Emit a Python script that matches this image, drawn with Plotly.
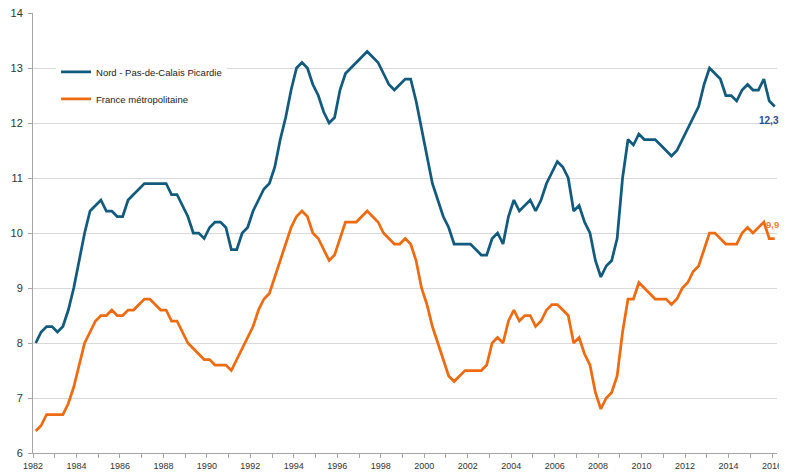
import plotly.graph_objects as go

years = list(range(1982, 2017))
quarters = [y + (q - 0.5) / 4 for y in range(1982, 2016) for q in range(1, 5)] + [2016 + 0.5 / 4]

nord_pdc_picardie = [
    8.0, 8.2, 8.3, 8.3,      # 1982
    8.2, 8.3, 8.6, 9.0,      # 1983
    9.5, 10.0, 10.4, 10.5,   # 1984
    10.6, 10.4, 10.4, 10.3,  # 1985
    10.3, 10.6, 10.7, 10.8,  # 1986
    10.9, 10.9, 10.9, 10.9,  # 1987
    10.9, 10.7, 10.7, 10.5,  # 1988
    10.3, 10.0, 10.0, 9.9,   # 1989
    10.1, 10.2, 10.2, 10.1,  # 1990
    9.7, 9.7, 10.0, 10.1,    # 1991
    10.4, 10.6, 10.8, 10.9,  # 1992
    11.2, 11.7, 12.1, 12.6,  # 1993
    13.0, 13.1, 13.0, 12.7,  # 1994
    12.5, 12.2, 12.0, 12.1,  # 1995
    12.6, 12.9, 13.0, 13.1,  # 1996
    13.2, 13.3, 13.2, 13.1,  # 1997
    12.9, 12.7, 12.6, 12.7,  # 1998
    12.8, 12.8, 12.4, 11.9,  # 1999
    11.4, 10.9, 10.6, 10.3,  # 2000
    10.1, 9.8, 9.8, 9.8,     # 2001
    9.8, 9.7, 9.6, 9.6,      # 2002
    9.9, 10.0, 9.8, 10.3,    # 2003
    10.6, 10.4, 10.5, 10.6,  # 2004
    10.4, 10.6, 10.9, 11.1,  # 2005
    11.3, 11.2, 11.0, 10.4,  # 2006
    10.5, 10.2, 10.0, 9.5,   # 2007
    9.2, 9.4, 9.5, 9.9,      # 2008
    11.0, 11.7, 11.6, 11.8,  # 2009
    11.7, 11.7, 11.7, 11.6,  # 2010
    11.5, 11.4, 11.5, 11.7,  # 2011
    11.9, 12.1, 12.3, 12.7,  # 2012
    13.0, 12.9, 12.8, 12.5,  # 2013
    12.5, 12.4, 12.6, 12.7,  # 2014
    12.6, 12.6, 12.8, 12.4,  # 2015
    12.3,                    # 2016
]

france_metro = [
    6.4, 6.5, 6.7, 6.7,      # 1982
    6.7, 6.7, 6.9, 7.2,      # 1983
    7.6, 8.0, 8.2, 8.4,      # 1984
    8.5, 8.5, 8.6, 8.5,      # 1985
    8.5, 8.6, 8.6, 8.7,      # 1986
    8.8, 8.8, 8.7, 8.6,      # 1987
    8.6, 8.4, 8.4, 8.2,      # 1988
    8.0, 7.9, 7.8, 7.7,      # 1989
    7.7, 7.6, 7.6, 7.6,      # 1990
    7.5, 7.7, 7.9, 8.1,      # 1991
    8.3, 8.6, 8.8, 8.9,      # 1992
    9.2, 9.5, 9.8, 10.1,     # 1993
    10.3, 10.4, 10.3, 10.0,  # 1994
    9.9, 9.7, 9.5, 9.6,      # 1995
    9.9, 10.2, 10.2, 10.2,   # 1996
    10.3, 10.4, 10.3, 10.2,  # 1997
    10.0, 9.9, 9.8, 9.8,     # 1998
    9.9, 9.8, 9.5, 9.0,      # 1999
    8.7, 8.3, 8.0, 7.7,      # 2000
    7.4, 7.3, 7.4, 7.5,      # 2001
    7.5, 7.5, 7.5, 7.6,      # 2002
    8.0, 8.1, 8.0, 8.4,      # 2003
    8.6, 8.4, 8.5, 8.5,      # 2004
    8.3, 8.4, 8.6, 8.7,      # 2005
    8.7, 8.6, 8.5, 8.0,      # 2006
    8.1, 7.8, 7.6, 7.1,      # 2007
    6.8, 7.0, 7.1, 7.4,      # 2008
    8.2, 8.8, 8.8, 9.1,      # 2009
    9.0, 8.9, 8.8, 8.8,      # 2010
    8.8, 8.7, 8.8, 9.0,      # 2011
    9.1, 9.3, 9.4, 9.7,      # 2012
    10.0, 10.0, 9.9, 9.8,    # 2013
    9.8, 9.8, 10.0, 10.1,    # 2014
    10.0, 10.1, 10.2, 9.9,   # 2015
    9.9,                     # 2016
]

series_names = ["Nord - Pas-de-Calais Picardie", "France métropolitaine"]
line_colors = ["#125B7E", "#EE6B12"]
label_colors = ["#2E4C8A", "#F0822F"]
year_ticks = years[::2]
y_ticks = list(range(6, 15))

FONT = "Liberation Sans, Arial, sans-serif"

fig = go.Figure()
for name, vals, col in zip(series_names, [nord_pdc_picardie, france_metro], line_colors):
    fig.add_trace(go.Scatter(
        x=quarters, y=vals, mode="lines", name=name, legendgroup=name,
        line=dict(color=col, width=2.75), hoverinfo="x+y",
    ))

def fmt(v):
    return f"{v:.1f}".replace(".", ",")

fig.add_annotation(x=quarters[-1], y=nord_pdc_picardie[-1], text=f"<b>{fmt(nord_pdc_picardie[-1])}</b>",
                   showarrow=False, xanchor="right", yanchor="middle", xshift=6, yshift=-14,
                   font=dict(family=FONT, size=10, color=label_colors[0]))
fig.add_annotation(x=quarters[-1], y=france_metro[-1], text=f"<b>{fmt(france_metro[-1])}</b>",
                   showarrow=False, xanchor="right", yanchor="middle", xshift=6, yshift=14,
                   font=dict(family=FONT, size=9.5, color=label_colors[1]))

fig.update_layout(
    width=779, height=464,
    margin=dict(l=25, r=10, t=5, b=19),
    paper_bgcolor="white", plot_bgcolor="white",
    font=dict(family=FONT, size=10, color="#333333"),
    showlegend=True,
    legend=dict(x=0.031, y=0.899, xanchor="left", yanchor="top",
                bgcolor="white", borderwidth=0, traceorder="grouped",
                tracegroupgap=8, font=dict(family=FONT, size=9.5, color="#222222")),
    xaxis=dict(range=[1982, 2016.23], tickmode="array", tickvals=year_ticks,
               ticktext=[str(y) for y in year_ticks], showgrid=False, zeroline=False,
               showline=True, linecolor="#A6A6A6", linewidth=1, automargin=False,
               ticklabeloverflow="allow",
               ticks="outside", ticklen=4, tickcolor="#A6A6A6",
               minor=dict(dtick=1, tick0=1982, ticks="outside", ticklen=4,
                          tickcolor="#A6A6A6", showgrid=False),
               tickfont=dict(family=FONT, size=9, color="#333333")),
    yaxis=dict(range=[6, 14], tickmode="array", tickvals=y_ticks,
               showgrid=True, gridcolor="#D9D9D9", gridwidth=1, zeroline=False,
               showline=True, linecolor="#A6A6A6", linewidth=1, automargin=False,
               ticklabeloverflow="allow", ticklabelstandoff=3,
               ticks="outside", ticklen=4, tickcolor="#A6A6A6",
               tickfont=dict(family=FONT, size=11, color="#333333")),
)

fig.write_html("out.html")
